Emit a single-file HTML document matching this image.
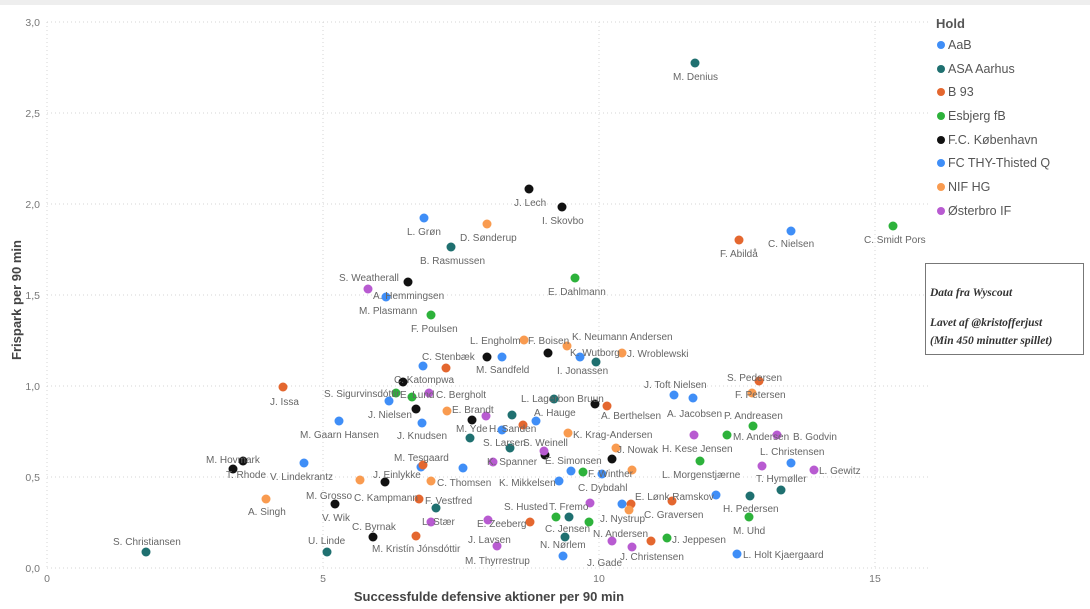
<!DOCTYPE html>
<html><head><meta charset="utf-8"><style>
body{margin:0;background:#fff;}
svg{display:block;font-family:"Liberation Sans",sans-serif;}
.l{font-size:10px;fill:#666;}
.t{font-size:10.5px;fill:#777;}
</style></head><body>
<svg width="1090" height="609" viewBox="0 0 1090 609">
<rect x="0" y="0" width="1090" height="5" fill="#eee"/>
<g stroke="#d4d4d4" stroke-width="1" stroke-dasharray="1,3">
<line x1="47" y1="22" x2="928" y2="22"/><line x1="47" y1="113" x2="928" y2="113"/>
<line x1="47" y1="204" x2="928" y2="204"/><line x1="47" y1="295" x2="928" y2="295"/>
<line x1="47" y1="386" x2="928" y2="386"/><line x1="47" y1="477" x2="928" y2="477"/>
<line x1="47" y1="568" x2="928" y2="568"/>
<line x1="47" y1="22" x2="47" y2="568"/><line x1="323" y1="22" x2="323" y2="568"/>
<line x1="599" y1="22" x2="599" y2="568"/><line x1="875" y1="22" x2="875" y2="568"/>
</g>
<g class="t" text-anchor="end">
<text x="40" y="26">3,0</text><text x="40" y="117">2,5</text><text x="40" y="208">2,0</text>
<text x="40" y="299">1,5</text><text x="40" y="390">1,0</text><text x="40" y="481">0,5</text><text x="40" y="572">0,0</text>
</g>
<g class="t" text-anchor="middle">
<text x="47" y="582">0</text><text x="323" y="582">5</text><text x="599" y="582">10</text><text x="875" y="582">15</text>
</g>
<text x="489" y="601" text-anchor="middle" font-size="13" font-weight="bold" fill="#444">Successfulde defensive aktioner per 90 min</text>
<text transform="translate(21,300) rotate(-90)" text-anchor="middle" font-size="13" font-weight="bold" fill="#444">Frispark per 90 min</text>

<g>
<g fill="#1f7070">
<circle cx="146" cy="552" r="4.5"/><circle cx="327" cy="552" r="4.5"/><circle cx="451" cy="247" r="4.5"/>
<circle cx="695" cy="63" r="4.5"/><circle cx="596" cy="362" r="4.5"/><circle cx="554" cy="399" r="4.5"/>
<circle cx="512" cy="415" r="4.5"/><circle cx="470" cy="438" r="4.5"/><circle cx="510" cy="448" r="4.5"/>
<circle cx="436" cy="508" r="4.5"/><circle cx="569" cy="517" r="4.5"/><circle cx="565" cy="537" r="4.5"/>
<circle cx="781" cy="490" r="4.5"/><circle cx="750" cy="496" r="4.5"/>
</g>
<g fill="#111">
<circle cx="243" cy="461" r="4.5"/><circle cx="233" cy="469" r="4.5"/><circle cx="408" cy="282" r="4.5"/>
<circle cx="529" cy="189" r="4.5"/><circle cx="562" cy="207" r="4.5"/><circle cx="487" cy="357" r="4.5"/>
<circle cx="548" cy="353" r="4.5"/><circle cx="403" cy="382" r="4.5"/><circle cx="595" cy="404" r="4.5"/>
<circle cx="416" cy="409" r="4.5"/><circle cx="472" cy="420" r="4.5"/><circle cx="545" cy="455" r="4.5"/>
<circle cx="612" cy="459" r="4.5"/><circle cx="385" cy="482" r="4.5"/><circle cx="335" cy="504" r="4.5"/>
<circle cx="373" cy="537" r="4.5"/>
</g>
<g fill="#3f8ef7">
<circle cx="304" cy="463" r="4.5"/><circle cx="339" cy="421" r="4.5"/><circle cx="386" cy="297" r="4.5"/>
<circle cx="424" cy="218" r="4.5"/><circle cx="791" cy="231" r="4.5"/><circle cx="502" cy="357" r="4.5"/>
<circle cx="580" cy="357" r="4.5"/><circle cx="423" cy="366" r="4.5"/><circle cx="389" cy="401" r="4.5"/>
<circle cx="674" cy="395" r="4.5"/><circle cx="693" cy="398" r="4.5"/><circle cx="536" cy="421" r="4.5"/>
<circle cx="422" cy="423" r="4.5"/><circle cx="502" cy="430" r="4.5"/><circle cx="421" cy="467" r="4.5"/>
<circle cx="463" cy="468" r="4.5"/><circle cx="571" cy="471" r="4.5"/><circle cx="602" cy="474" r="4.5"/>
<circle cx="559" cy="481" r="4.5"/><circle cx="622" cy="504" r="4.5"/><circle cx="563" cy="556" r="4.5"/>
<circle cx="791" cy="463" r="4.5"/><circle cx="716" cy="495" r="4.5"/><circle cx="737" cy="554" r="4.5"/>
</g>
<g fill="#e4672f">
<circle cx="283" cy="387" r="4.5"/><circle cx="739" cy="240" r="4.5"/><circle cx="446" cy="368" r="4.5"/>
<circle cx="607" cy="406" r="4.5"/><circle cx="523" cy="425" r="4.5"/><circle cx="423" cy="465" r="4.5"/>
<circle cx="419" cy="499" r="4.5"/><circle cx="631" cy="504" r="4.5"/><circle cx="672" cy="501" r="4.5"/>
<circle cx="530" cy="522" r="4.5"/><circle cx="416" cy="536" r="4.5"/><circle cx="651" cy="541" r="4.5"/>
<circle cx="759" cy="381" r="4.5"/>
</g>
<g fill="#f99b50">
<circle cx="266" cy="499" r="4.5"/><circle cx="487" cy="224" r="4.5"/><circle cx="524" cy="340" r="4.5"/>
<circle cx="567" cy="346" r="4.5"/><circle cx="622" cy="353" r="4.5"/><circle cx="447" cy="411" r="4.5"/>
<circle cx="568" cy="433" r="4.5"/><circle cx="616" cy="448" r="4.5"/><circle cx="632" cy="470" r="4.5"/>
<circle cx="360" cy="480" r="4.5"/><circle cx="431" cy="481" r="4.5"/><circle cx="629" cy="510" r="4.5"/>
<circle cx="752" cy="393" r="4.5"/>
</g>
<g fill="#2db23b">
<circle cx="893" cy="226" r="4.5"/><circle cx="431" cy="315" r="4.5"/><circle cx="575" cy="278" r="4.5"/>
<circle cx="396" cy="393" r="4.5"/><circle cx="412" cy="397" r="4.5"/><circle cx="583" cy="472" r="4.5"/>
<circle cx="556" cy="517" r="4.5"/><circle cx="589" cy="522" r="4.5"/><circle cx="667" cy="538" r="4.5"/>
<circle cx="753" cy="426" r="4.5"/><circle cx="727" cy="435" r="4.5"/><circle cx="700" cy="461" r="4.5"/>
<circle cx="749" cy="517" r="4.5"/>
</g>
<g fill="#b85bd1">
<circle cx="368" cy="289" r="4.5"/><circle cx="429" cy="393" r="4.5"/><circle cx="486" cy="416" r="4.5"/>
<circle cx="544" cy="451" r="4.5"/><circle cx="493" cy="462" r="4.5"/><circle cx="590" cy="503" r="4.5"/>
<circle cx="431" cy="522" r="4.5"/><circle cx="488" cy="520" r="4.5"/><circle cx="497" cy="546" r="4.5"/>
<circle cx="612" cy="541" r="4.5"/><circle cx="632" cy="547" r="4.5"/><circle cx="694" cy="435" r="4.5"/>
<circle cx="777" cy="435" r="4.5"/><circle cx="762" cy="466" r="4.5"/><circle cx="814" cy="470" r="4.5"/>
</g>
</g>

<g class="l">
<text x="113" y="545">S. Christiansen</text>
<text x="308" y="544">U. Linde</text>
<text x="206" y="463">M. Hovmark</text>
<text x="226" y="478">T. Rhode</text>
<text x="248" y="515">A. Singh</text>
<text x="270" y="405">J. Issa</text>
<text x="270" y="480">V. Lindekrantz</text>
<text x="300" y="438">M. Gaarn Hansen</text>
<text x="339" y="281">S. Weatherall</text>
<text x="373" y="299">A. Hemmingsen</text>
<text x="359" y="314">M. Plasmann</text>
<text x="407" y="235">L. Grøn</text>
<text x="460" y="241">D. Sønderup</text>
<text x="420" y="264">B. Rasmussen</text>
<text x="514" y="206">J. Lech</text>
<text x="542" y="224">I. Skovbo</text>
<text x="673" y="80">M. Denius</text>
<text x="720" y="257">F. Abildå</text>
<text x="768" y="247">C. Nielsen</text>
<text x="864" y="243">C. Smidt Pors</text>
<text x="411" y="332">F. Poulsen</text>
<text x="548" y="295">E. Dahlmann</text>
<text x="470" y="344">L. Engholm</text>
<text x="528" y="344">F. Boisen</text>
<text x="572" y="340">K. Neumann Andersen</text>
<text x="422" y="360">C. Stenbæk</text>
<text x="476" y="373">M. Sandfeld</text>
<text x="570" y="356">K. Wutborg</text>
<text x="627" y="357">J. Wroblewski</text>
<text x="557" y="374">I. Jonassen</text>
<text x="394" y="383">C. Katompwa</text>
<text x="324" y="397">S. Sigurvinsdóttir</text>
<text x="400" y="398">E. Lund</text>
<text x="436" y="398">C. Bergholt</text>
<text x="521" y="402">L. Lagerbon Bruun</text>
<text x="601" y="419">A. Berthelsen</text>
<text x="644" y="388">J. Toft Nielsen</text>
<text x="667" y="417">A. Jacobsen</text>
<text x="368" y="418">J. Nielsen</text>
<text x="452" y="413">E. Brandt</text>
<text x="534" y="416">A. Hauge</text>
<text x="456" y="432">M. Yde</text>
<text x="489" y="432">H. Sanden</text>
<text x="397" y="439">J. Knudsen</text>
<text x="573" y="438">K. Krag-Andersen</text>
<text x="483" y="446">S. Larsen</text>
<text x="523" y="446">S. Weinell</text>
<text x="617" y="453">J. Nowak</text>
<text x="545" y="464">E. Simonsen</text>
<text x="394" y="461">M. Tesgaard</text>
<text x="487" y="465">K. Spanner</text>
<text x="588" y="477">F. Winther</text>
<text x="306" y="499">M. Grosso</text>
<text x="354" y="501">C. Kampmann</text>
<text x="373" y="478">J. Einlykke</text>
<text x="437" y="486">C. Thomsen</text>
<text x="499" y="486">K. Mikkelsen</text>
<text x="578" y="491">C. Dybdahl</text>
<text x="322" y="521">V. Wik</text>
<text x="425" y="504">F. Vestfred</text>
<text x="600" y="522">J. Nystrup</text>
<text x="635" y="500">E. Lønk Ramskov</text>
<text x="644" y="518">C. Graversen</text>
<text x="504" y="510">S. Husted</text>
<text x="549" y="510">T. Fremo</text>
<text x="545" y="532">C. Jensen</text>
<text x="422" y="525">L. Stær</text>
<text x="477" y="527">E. Zeeberg</text>
<text x="352" y="530">C. Byrnak</text>
<text x="372" y="552">M. Kristín Jónsdóttir</text>
<text x="468" y="543">J. Lavsen</text>
<text x="465" y="564">M. Thyrrestrup</text>
<text x="540" y="548">N. Nørlem</text>
<text x="593" y="537">N. Andersen</text>
<text x="620" y="560">J. Christensen</text>
<text x="587" y="566">J. Gade</text>
<text x="672" y="543">J. Jeppesen</text>
<text x="727" y="381">S. Pedersen</text>
<text x="735" y="398">F. Petersen</text>
<text x="724" y="419">P. Andreasen</text>
<text x="733" y="440">M. Andersen</text>
<text x="793" y="440">B. Godvin</text>
<text x="662" y="452">H. Kese Jensen</text>
<text x="662" y="478">L. Morgenstjærne</text>
<text x="760" y="455">L. Christensen</text>
<text x="756" y="482">T. Hymøller</text>
<text x="819" y="474">L. Gewitz</text>
<text x="723" y="512">H. Pedersen</text>
<text x="733" y="534">M. Uhd</text>
<text x="743" y="558">L. Holt Kjaergaard</text>
</g>

<text x="936" y="28" font-size="13" font-weight="bold" fill="#555">Hold</text>
<g font-size="12.5" fill="#555">
<circle cx="941" cy="45" r="4" fill="#3f8ef7"/><text x="948" y="49">AaB</text>
<circle cx="941" cy="69" r="4" fill="#1f7070"/><text x="948" y="73">ASA Aarhus</text>
<circle cx="941" cy="92" r="4" fill="#e4672f"/><text x="948" y="96">B 93</text>
<circle cx="941" cy="116" r="4" fill="#2db23b"/><text x="948" y="120">Esbjerg fB</text>
<circle cx="941" cy="140" r="4" fill="#111"/><text x="948" y="144">F.C. København</text>
<circle cx="941" cy="163" r="4" fill="#3f8ef7"/><text x="948" y="167">FC THY-Thisted Q</text>
<circle cx="941" cy="187" r="4" fill="#f99b50"/><text x="948" y="191">NIF HG</text>
<circle cx="941" cy="211" r="4" fill="#b85bd1"/><text x="948" y="215">Østerbro IF</text>
</g>
<rect x="925.5" y="263.5" width="158" height="91" fill="#fff" stroke="#777"/>
<g font-family="Liberation Serif, serif" font-style="italic" font-weight="bold" font-size="11.5" fill="#333">
<text x="930" y="296">Data fra Wyscout</text>
<text x="930" y="326">Lavet af @kristofferjust</text>
<text x="930" y="344">(Min 450 minutter spillet)</text>
</g>
</svg>
</body></html>
